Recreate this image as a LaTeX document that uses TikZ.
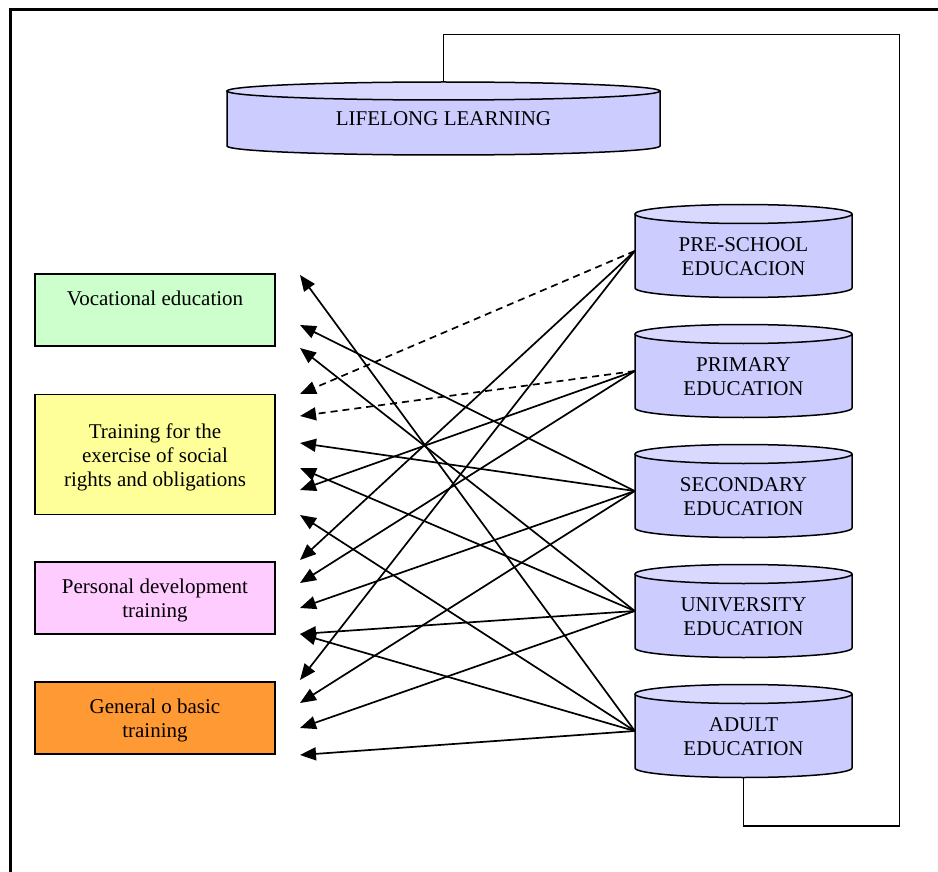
\documentclass[tikz,border=0pt]{standalone}
\usepackage{fontspec}
\setmainfont{Liberation Serif}
\usetikzlibrary{arrows.meta}
\definecolor{cylbody}{HTML}{CCCCFF}
\definecolor{cyltop}{HTML}{D9D9FF}
\definecolor{vocgreen}{HTML}{CCFFCC}
\definecolor{socyellow}{HTML}{FFFF99}
\definecolor{perspink}{HTML}{FFCCFF}
\definecolor{genorange}{HTML}{FF9933}
\tikzset{
  cylline/.style={draw=black, line width=1.5pt},
  cylarea/.style={inner sep=0pt, draw=none},
  txt/.style={font=\fontsize{21}{24}\selectfont, align=center, inner sep=0pt, text=black},
  boxnode/.style={draw=black, line width=1.6pt, minimum width=240pt, inner sep=0pt},
  conn/.style={line width=1.7pt, -{Triangle[length=16pt,width=13pt]}},
  dconn/.style={conn, dash pattern=on 7pt off 5pt},
  feedback/.style={line width=1.7pt},
}
% cx, cy, half width, half height, ry
\newcommand{\cylshape}[5]{%
  \fill[cylbody] ({#1-#3},{#2-#4}) -- ({#1-#3},{#2+#4}) arc[start angle=180,end angle=360,x radius=#3pt,y radius=#5pt] -- ({#1+#3},{#2-#4}) -- cycle;
  \draw[cylline] ({#1-#3},{#2-#4}) -- ({#1-#3},{#2+#4}) arc[start angle=180,end angle=360,x radius=#3pt,y radius=#5pt] -- ({#1+#3},{#2-#4});
  \draw[cylline,fill=cyltop] (#1,{#2-#4}) ellipse[x radius=#3pt,y radius=#5pt];
}
\begin{document}
\begin{tikzpicture}[x=1pt,y=-1pt]
\useasboundingbox (0,0) rectangle (938,872);
% outer frame (cropped)
\draw[line width=2.6pt] (10.5,890) -- (10.5,9.5) -- (960,9.5);

% lifelong learning
\cylshape{443.5}{118.5}{216.5}{27.5}{9}
\node[cylarea, minimum width=433pt, minimum height=55pt] (ll) at (443.5,118.5) {};
\node[txt] (llt) at (ll.center) {LIFELONG LEARNING};

% education cylinders
\cylshape{743.5}{251}{108.5}{37}{9.5}
\node[cylarea, minimum width=217pt, minimum height=74pt] (pre) at (743.5,251) {};
\node[txt] (pret) at ([yshift=-6pt]pre.center) {PRE-SCHOOL\\EDUCACION};

\cylshape{743.5}{371}{108.5}{37}{9.5}
\node[cylarea, minimum width=217pt, minimum height=74pt] (pri) at (743.5,371) {};
\node[txt] (prit) at ([yshift=-6pt]pri.center) {PRIMARY\\EDUCATION};

\cylshape{743.5}{491}{108.5}{37}{9.5}
\node[cylarea, minimum width=217pt, minimum height=74pt] (sec) at (743.5,491) {};
\node[txt] (sect) at ([yshift=-6pt]sec.center) {SECONDARY\\EDUCATION};

\cylshape{743.5}{611}{108.5}{37}{9.5}
\node[cylarea, minimum width=217pt, minimum height=74pt] (uni) at (743.5,611) {};
\node[txt] (unit) at ([yshift=-6pt]uni.center) {UNIVERSITY\\EDUCATION};

\cylshape{743.5}{731}{108.5}{37}{9.5}
\node[cylarea, minimum width=217pt, minimum height=74pt] (adu) at (743.5,731) {};
\node[txt] (adut) at ([yshift=-6pt]adu.center) {ADULT\\EDUCATION};

% left boxes
\node[boxnode, fill=vocgreen, minimum height=72pt] (voc) at (155,310) {};
\node[txt] (voct) at ([yshift=12pt]voc.center) {Vocational education};
\node[boxnode, fill=socyellow, minimum height=120pt] (soc) at (155,454.5) {};
\node[txt] (soct) at ([yshift=-2.5pt]soc.center) {Training for the\\exercise of social\\rights and obligations};
\node[boxnode, fill=perspink, minimum height=72pt] (per) at (155,598) {};
\node[txt] (pert) at ([yshift=-2.5pt]per.center) {Personal development\\training};
\node[boxnode, fill=genorange, minimum height=72pt] (gen) at (155,718) {};
\node[txt] (gent) at ([yshift=-2.5pt]gen.center) {General o basic\\training};

% arrow tips
\coordinate (a1) at (300,275);
\coordinate (a2) at (300,325);
\coordinate (a3) at (300,348);
\coordinate (a4) at (300,394);
\coordinate (a5) at (300,416);
\coordinate (a6) at (300,443);
\coordinate (a7) at (300,468);
\coordinate (a8) at (300,490);
\coordinate (a9) at (300,515);
\coordinate (a10) at (300,560);
\coordinate (a11) at (300,583);
\coordinate (a12) at (300,608);
\coordinate (a13) at (300,634);
\coordinate (a14) at (300,680);
\coordinate (a15) at (300,703);
\coordinate (a16) at (300,728);
\coordinate (a17) at (300,755);

% pre-school
\draw[dconn] (pre.west) -- (a4);
\draw[conn] (pre.west) -- (a10);
\draw[conn] (pre.west) -- (a14);
% primary
\draw[dconn] (pri.west) -- (a5);
\draw[conn] (pri.west) -- (a8);
\draw[conn] (pri.west) -- (a11);
% secondary
\draw[conn] (sec.west) -- (a2);
\draw[conn] (sec.west) -- (a6);
\draw[conn] (sec.west) -- (a12);
\draw[conn] (sec.west) -- (a15);
% university
\draw[conn] (uni.west) -- (a3);
\draw[conn] (uni.west) -- (a7);
\draw[conn] (uni.west) -- (a13);
\draw[conn] (uni.west) -- (a16);
% adult
\draw[conn] (adu.west) -- (a1);
\draw[conn] (adu.west) -- (a9);
\draw[conn] (adu.west) -- (a13);
\draw[conn] (adu.west) -- (a17);

% feedback loop
\coordinate (fb1) at (899.5,34.5);
\coordinate (fb2) at (743.5,826);
\draw[feedback] ([yshift=-9.5pt]adu.south) -- (fb2) -| (fb1) -| ([yshift=9pt]ll.north);
\end{tikzpicture}
\end{document}
